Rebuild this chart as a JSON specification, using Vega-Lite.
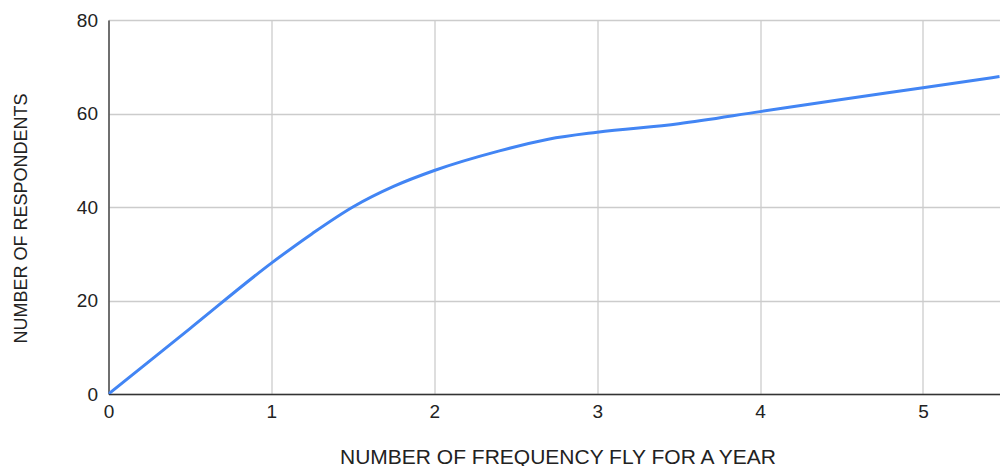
{
  "$schema": "https://vega.github.io/schema/vega-lite/v6.json",
  "width": 891.5,
  "height": 374,
  "autosize": "none",
  "padding": {"left": 108.5, "top": 20, "right": 0, "bottom": 72},
  "background": "white",
  "config": {"view": {"stroke": null}},
  "data": {
    "values": [
      {"trips": 0, "respondents": 0},
      {"trips": 0.5, "respondents": 14},
      {"trips": 1, "respondents": 28},
      {"trips": 1.25, "respondents": 34.3},
      {"trips": 1.5, "respondents": 40},
      {"trips": 1.75, "respondents": 44.4},
      {"trips": 2, "respondents": 47.8},
      {"trips": 2.4, "respondents": 52},
      {"trips": 2.7, "respondents": 54.5},
      {"trips": 3, "respondents": 56},
      {"trips": 3.5, "respondents": 57.8},
      {"trips": 4, "respondents": 60.4},
      {"trips": 4.5, "respondents": 63},
      {"trips": 5, "respondents": 65.5},
      {"trips": 5.47, "respondents": 67.9}
    ]
  },
  "mark": {"type": "line", "color": "#4285F4", "strokeWidth": 3, "interpolate": "monotone", "clip": true},
  "encoding": {
    "x": {
      "field": "trips",
      "type": "quantitative",
      "scale": {"domain": [0, 5.473], "nice": false, "zero": true},
      "axis": {
        "title": "NUMBER OF FREQUENCY FLY FOR A YEAR",
        "values": [0, 1, 2, 3, 4, 5],
        "format": "d",
        "grid": true,
        "gridColor": "#cccccc",
        "gridWidth": 1.3,
        "domainColor": "#333333",
        "domainWidth": 1.3,
        "ticks": false,
        "tickSize": 0,
        "labelFont": "Liberation Sans",
        "labelFontSize": 19,
        "labelColor": "#222222",
        "labelBaseline": "alphabetic",
        "labelPadding": 23,
        "labelFlush": false,
        "labelOverlap": false,
        "titleFont": "Liberation Sans",
        "titleFontSize": 21,
        "titleFontWeight": "normal",
        "titleColor": "#222222",
        "titleBaseline": "alphabetic",
        "titleX": 449,
        "titleY": 69,
        "titleAnchor": "middle"
      }
    },
    "y": {
      "field": "respondents",
      "type": "quantitative",
      "scale": {"domain": [0, 80], "nice": false},
      "axis": {
        "title": "NUMBER OF RESPONDENTS",
        "values": [0, 20, 40, 60, 80],
        "grid": true,
        "gridColor": "#cccccc",
        "gridWidth": 1.3,
        "domainColor": "#333333",
        "domainWidth": 1.3,
        "ticks": false,
        "tickSize": 0,
        "labelFont": "Liberation Sans",
        "labelFontSize": 19,
        "labelColor": "#222222",
        "labelPadding": 11,
        "labelFlush": false,
        "labelOverlap": false,
        "titleFont": "Liberation Sans",
        "titleFontSize": 18,
        "titleFontWeight": "normal",
        "titleColor": "#222222",
        "titleBaseline": "alphabetic",
        "titleAngle": -90,
        "titleX": -82,
        "titleY": 198,
        "titleAnchor": "middle"
      }
    }
  }
}
